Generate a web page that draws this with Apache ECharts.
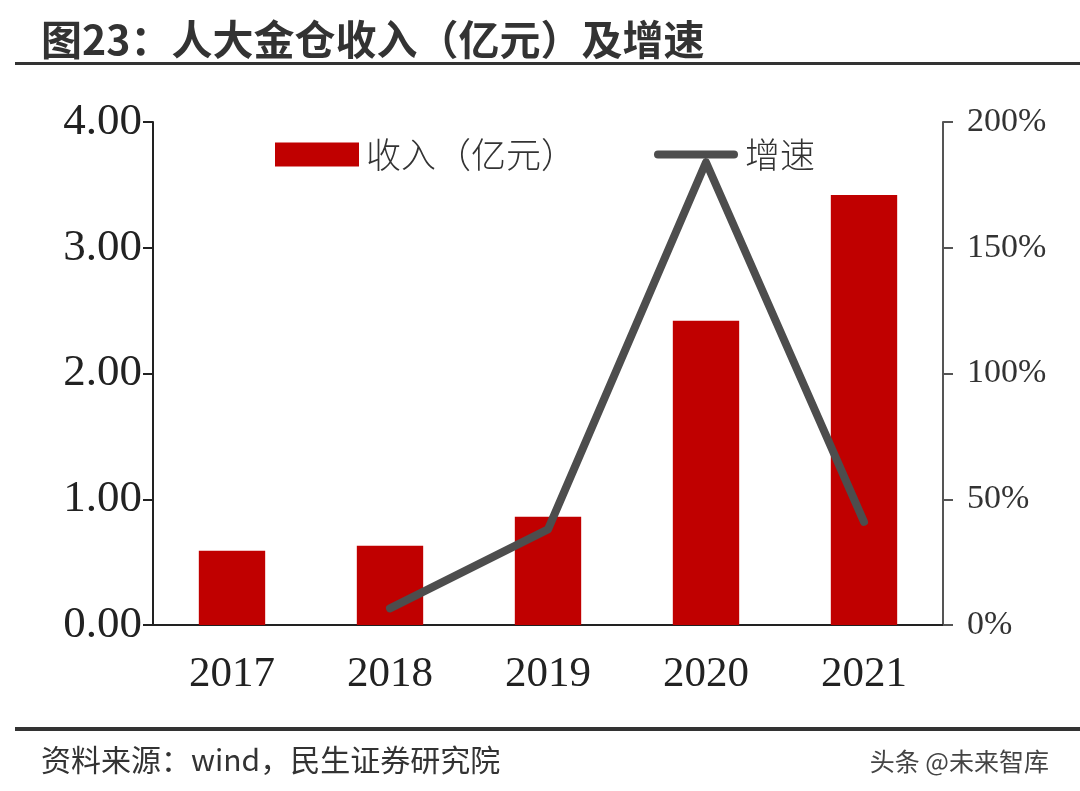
<!DOCTYPE html>
<html lang="zh">
<head>
  <meta charset="UTF-8">
  <title>人大金仓收入及增速</title>
  <script src="https://cdn.jsdelivr.net/npm/echarts@6/dist/echarts.min.js"></script>
  <style>
    html, body { margin: 0; padding: 0; background: #fff; }
    .chart-wrap { width: 1080px; height: 791px; }
  </style>
</head>
<body>
  <div class="chart-wrap" id="main"></div>
<script>
  const years = ['2017', '2018', '2019', '2020', '2021'];
  const revenue = [0.59, 0.63, 0.86, 2.42, 3.42];
  const growth = [null, 6.6, 38, 184, 41];

  const chart = echarts.init(document.getElementById('main'));
  const serif = '"Liberation Serif", "DejaVu Serif", serif';
  const cjk = '"Noto Sans CJK SC", sans-serif';
  // thick rounded line used as legend icon for the growth series
  const lineIcon = 'path://M4,0 H80 A4,4 0 0 1 80,8 H4 A4,4 0 0 1 4,0 Z';

  chart.setOption({
    backgroundColor: '#fff',
    title: [
      {
        text: '图23：人大金仓收入（亿元）及增速',
        left: 36,
        top: 14,
        textStyle: { fontFamily: cjk, fontSize: 41, fontWeight: 'bold', color: '#333' }
      },
      {
        text: '资料来源：wind，民生证券研究院',
        left: 36,
        top: 740,
        textStyle: { fontFamily: cjk, fontSize: 30, fontWeight: 'normal', color: '#333' }
      },
      {
        text: '头条 @未来智库',
        right: 26,
        top: 744,
        textStyle: { fontFamily: cjk, fontSize: 25, fontWeight: 'normal', color: '#444' }
      }
    ],
    graphic: [
      { type: 'rect', shape: { x: 15, y: 62, width: 1065, height: 3 }, style: { fill: '#333' } },
      { type: 'rect', shape: { x: 15, y: 727, width: 1065, height: 4 }, style: { fill: '#333' } }
    ],
    legend: {
      left: 270,
      top: 132,
      itemGap: 78,
      itemWidth: 84,
      itemHeight: 24,
      textStyle: { fontFamily: cjk, fontSize: 35, fontWeight: 200, color: '#333', padding: [0, 0, 0, 2] },
      data: [
        { name: '收入（亿元）', icon: 'rect' },
        { name: '增速', icon: lineIcon, itemStyle: { color: '#4d4d4d' } }
      ]
    },
    grid: { left: 153, right: 137, top: 122, bottom: 166 },
    xAxis: {
      type: 'category',
      data: years,
      axisLine: { lineStyle: { color: '#222', width: 2 } },
      axisTick: { length: 12, lineStyle: { color: '#222', width: 2 } },
      axisLabel: { fontFamily: serif, fontSize: 43, color: '#222', margin: 28 }
    },
    yAxis: [
      {
        type: 'value',
        min: 0,
        max: 4,
        interval: 1,
        splitLine: { show: false },
        axisLine: { show: true, lineStyle: { color: '#222', width: 2 } },
        axisTick: { show: true, length: 10, lineStyle: { color: '#222', width: 2 } },
        axisLabel: {
          fontFamily: serif, fontSize: 45, color: '#222', margin: 11,
          formatter: v => v.toFixed(2)
        }
      },
      {
        type: 'value',
        min: 0,
        max: 200,
        interval: 50,
        splitLine: { show: false },
        axisLine: { show: true, lineStyle: { color: '#555', width: 2 } },
        axisTick: { show: true, length: 10, lineStyle: { color: '#555', width: 2 } },
        axisLabel: {
          fontFamily: serif, fontSize: 34, color: '#333', margin: 24,
          formatter: '{value}%'
        }
      }
    ],
    series: [
      {
        name: '收入（亿元）',
        type: 'bar',
        data: revenue,
        barWidth: '42%',
        itemStyle: { color: '#c00000' }
      },
      {
        name: '增速',
        type: 'line',
        yAxisIndex: 1,
        data: growth,
        symbol: 'none',
        lineStyle: { color: '#4d4d4d', width: 8, cap: 'round', join: 'round' },
        itemStyle: { color: '#4d4d4d' }
      }
    ]
  });
</script>
</body>
</html>
